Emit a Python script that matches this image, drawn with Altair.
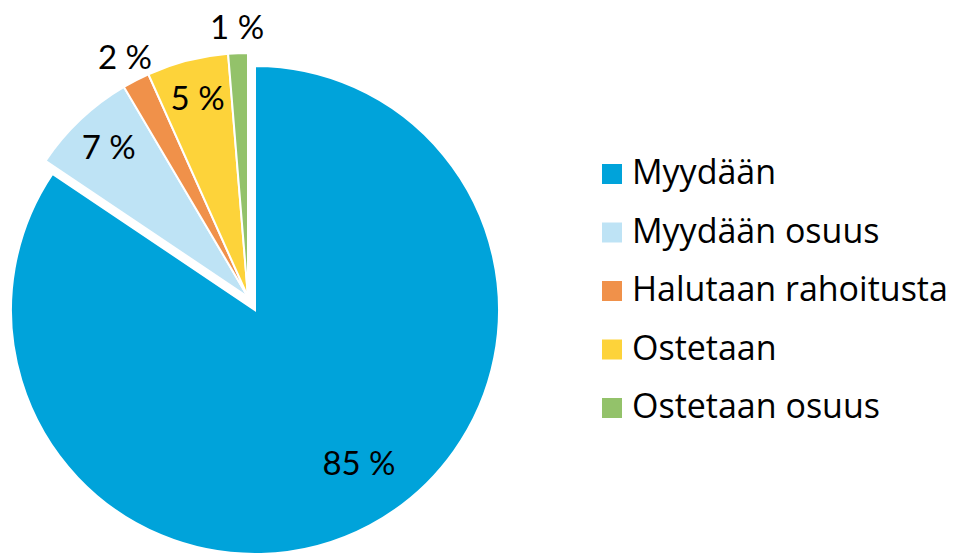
import altair as alt
import pandas as pd

categories = ["Myydään", "Myydään osuus", "Halutaan rahoitusta", "Ostetaan", "Ostetaan osuus"]
values = [84.5, 7.1, 1.8, 5.4, 1.3]
labels = ["85 %", "7 %", "2 %", "5 %", "1 %"]
colors = ["#00A3DA", "#BEE3F5", "#F0914A", "#FDD33A", "#93C26A"]

df = pd.DataFrame({
    "category": categories,
    "value": values,
    "label": labels,
    "order": list(range(len(categories))),
})

total = sum(values)
theta_scale = alt.Scale(domain=[0, total])
color_scale = alt.Scale(domain=categories, range=colors)
FONT = "Lato"
LEGEND_FONT = "Open Sans"

legend = alt.Legend(
    title=None, orient="none", legendX=587, legendY=149,
    symbolType="square", symbolSize=400, symbolStrokeWidth=0,
    labelFont=LEGEND_FONT, labelFontSize=34, labelColor="black",
    labelOffset=3, rowPadding=24.5, padding=0, labelLimit=400,
)
color_enc = alt.Color("category:N", scale=color_scale, sort=categories, legend=legend)

base = (
    alt.Chart(df)
    .transform_window(cum="sum(value)", sort=[alt.SortField("order")])
    .transform_calculate(start="datum.cum - datum.value", mid="datum.cum - datum.value / 2")
)

main_cat = categories[0]
is_main = f"datum.category === '{main_cat}'"
is_outside = f"datum.label === '{labels[2]}' || datum.label === '{labels[4]}'"

# small slices (not exploded)
small = base.transform_filter(f"!({is_main})").mark_arc(
    radius=244, stroke="white", strokeWidth=2
).encode(
    theta=alt.Theta("start:Q", scale=theta_scale),
    theta2="cum:Q",
    color=color_enc,
    x=alt.value(240), y=alt.value(289),
)

# exploded main slice
big = base.transform_filter(is_main).mark_arc(
    radius=244, stroke="white", strokeWidth=2
).encode(
    theta=alt.Theta("start:Q", scale=theta_scale),
    theta2="cum:Q",
    color=color_enc,
    x=alt.value(247), y=alt.value(302),
)

big_label = base.transform_filter(is_main).mark_text(
    font=FONT, fontSize=33, color="black", align="center", baseline="middle",
    thetaOffset=-0.1
).encode(
    theta=alt.Theta("mid:Q", scale=theta_scale),
    radius=alt.value(187),
    text="label:N",
    x=alt.value(247), y=alt.value(302),
)

inner_labels = base.transform_filter(f"!({is_main}) && !({is_outside})").mark_text(
    font=FONT, fontSize=33, color="black", align="center", baseline="middle"
).encode(
    theta=alt.Theta("mid:Q", scale=theta_scale),
    radius=alt.value(203),
    text="label:N",
    x=alt.value(240), y=alt.value(289),
)

outer_labels = base.transform_filter(is_outside).mark_text(
    font=FONT, fontSize=33, color="black", align="center", baseline="middle"
).encode(
    theta=alt.Theta("mid:Q", scale=theta_scale),
    radius=alt.value(268),
    text="label:N",
    x=alt.value(240), y=alt.value(289),
)

chart = alt.layer(big, small, big_label, inner_labels, outer_labels).properties(
    width=947, height=547, padding=0,
    autosize=alt.AutoSizeParams(type="none"),
).configure_view(stroke=None)

chart.save("out.html", embed_options={"renderer": "svg", "actions": False})
